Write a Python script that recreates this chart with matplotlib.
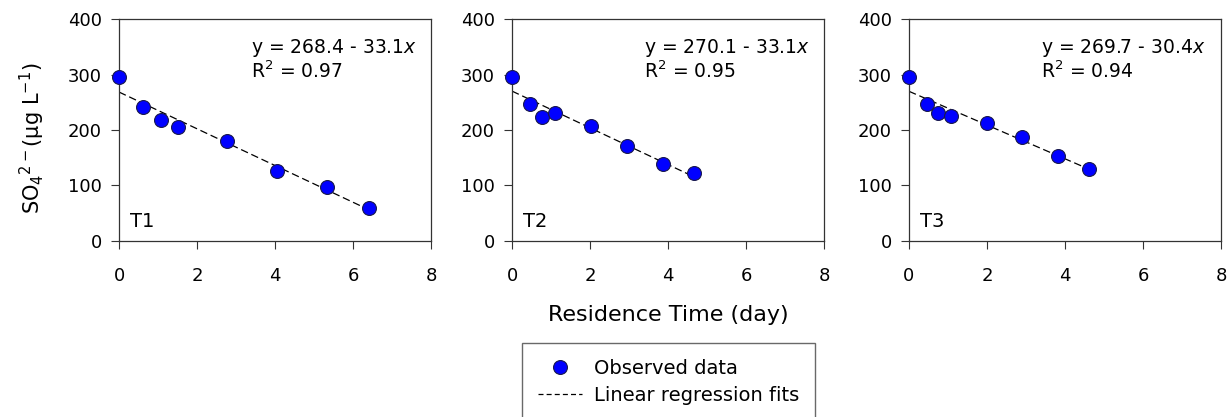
import matplotlib
matplotlib.use("Agg")
import matplotlib.pyplot as plt
from matplotlib.lines import Line2D
import numpy as np

plt.rcParams['font.family'] = ['DejaVu Sans']
plt.rcParams['mathtext.fontset'] = 'dejavusans'

panels = ["T1", "T2", "T3"]
x_t1 = [0.0, 0.62, 1.07, 1.50, 2.77, 4.04, 5.33, 6.42]
y_t1 = [296, 241, 218, 206, 181, 127, 97, 60]
x_t2 = [0.0, 0.46, 0.78, 1.09, 2.02, 2.95, 3.88, 4.67]
y_t2 = [295, 246, 224, 230, 208, 171, 138, 122]
x_t3 = [0.0, 0.45, 0.75, 1.08, 2.00, 2.90, 3.82, 4.61]
y_t3 = [296, 247, 230, 225, 213, 188, 154, 130]
intercepts = [268.4, 270.1, 269.7]
slopes = [-33.1, -33.1, -30.4]
r2 = [0.97, 0.95, 0.94]
xticks = [0, 2, 4, 6, 8]
yticks = [0, 100, 200, 300, 400]

xs = [x_t1, x_t2, x_t3]
ys = [y_t1, y_t2, y_t3]

W, H = 1231, 417
fig = plt.figure(figsize=(W / 100, H / 100), dpi=100)

lefts = [119, 512, 909]
pw = 312
top, bottom = 19, 241
ink = '#333333'

for i in range(3):
    ax = fig.add_axes([lefts[i] / W, 1 - bottom / H, pw / W, (bottom - top) / H])
    x = np.array(xs[i]); y = np.array(ys[i])
    xf = np.array([0, x.max()])
    ax.plot(xf, intercepts[i] + slopes[i] * xf, color='black', lw=0.9,
            ls=(0, (6, 3)), zorder=2)
    ax.plot(x, y, 'o', ms=10, mfc='#0000ff', mec='#1a1a4d', mew=0.8,
            ls='none', zorder=3, clip_on=False)
    ax.set_xlim(0, 8)
    ax.set_ylim(0, 400)
    ax.set_xticks(xticks)
    ax.set_yticks(yticks)
    ax.tick_params(direction='out', length=5.5, width=0.8, labelsize=13,
                   color=ink)
    ax.tick_params(axis='x', pad=13)
    ax.tick_params(axis='y', pad=7)
    for s in ax.spines.values():
        s.set_linewidth(0.9)
        s.set_color(ink)
    sign = '-' if slopes[i] < 0 else '+'
    ax.text(3.38, 339, f"y = {intercepts[i]:.1f} {sign} {abs(slopes[i]):.1f}$\\it{{x}}$",
            fontsize=13.5, va='baseline', ha='left')
    ax.text(3.38, 294, f"R$^2$ = {r2[i]:.2f}", fontsize=13.5, va='baseline', ha='left')
    ax.text(0.28, 25, panels[i], fontsize=14, va='baseline', ha='left')

fig.text(32 / W, 1 - 138 / H, r"SO$_4$$^{2-}$(μg L$^{-1}$)", rotation=90,
         fontsize=15, ha='center', va='center')
fig.text(668 / W, 1 - 315 / H, "Residence Time (day)", fontsize=16,
         ha='center', va='center')

handles = [Line2D([], [], marker='o', ls='none', ms=10, mfc='#0000ff', mec='#1a1a4d', mew=0.8),
           Line2D([], [], color='black', lw=0.9, ls=(0, (4, 2.5)))]
leg = fig.legend(handles, ["Observed data", "Linear regression fits"],
                 loc='upper left', bbox_to_anchor=(522 / W, 1 - 343 / H),
                 frameon=True, fancybox=False, fontsize=14, handlelength=2.3,
                 handletextpad=0.6, borderpad=0.8, labelspacing=0.42,
                 borderaxespad=0)
leg.get_frame().set_edgecolor('#444444')
leg.get_frame().set_linewidth(1.0)

fig.savefig("out.png", dpi=100)
